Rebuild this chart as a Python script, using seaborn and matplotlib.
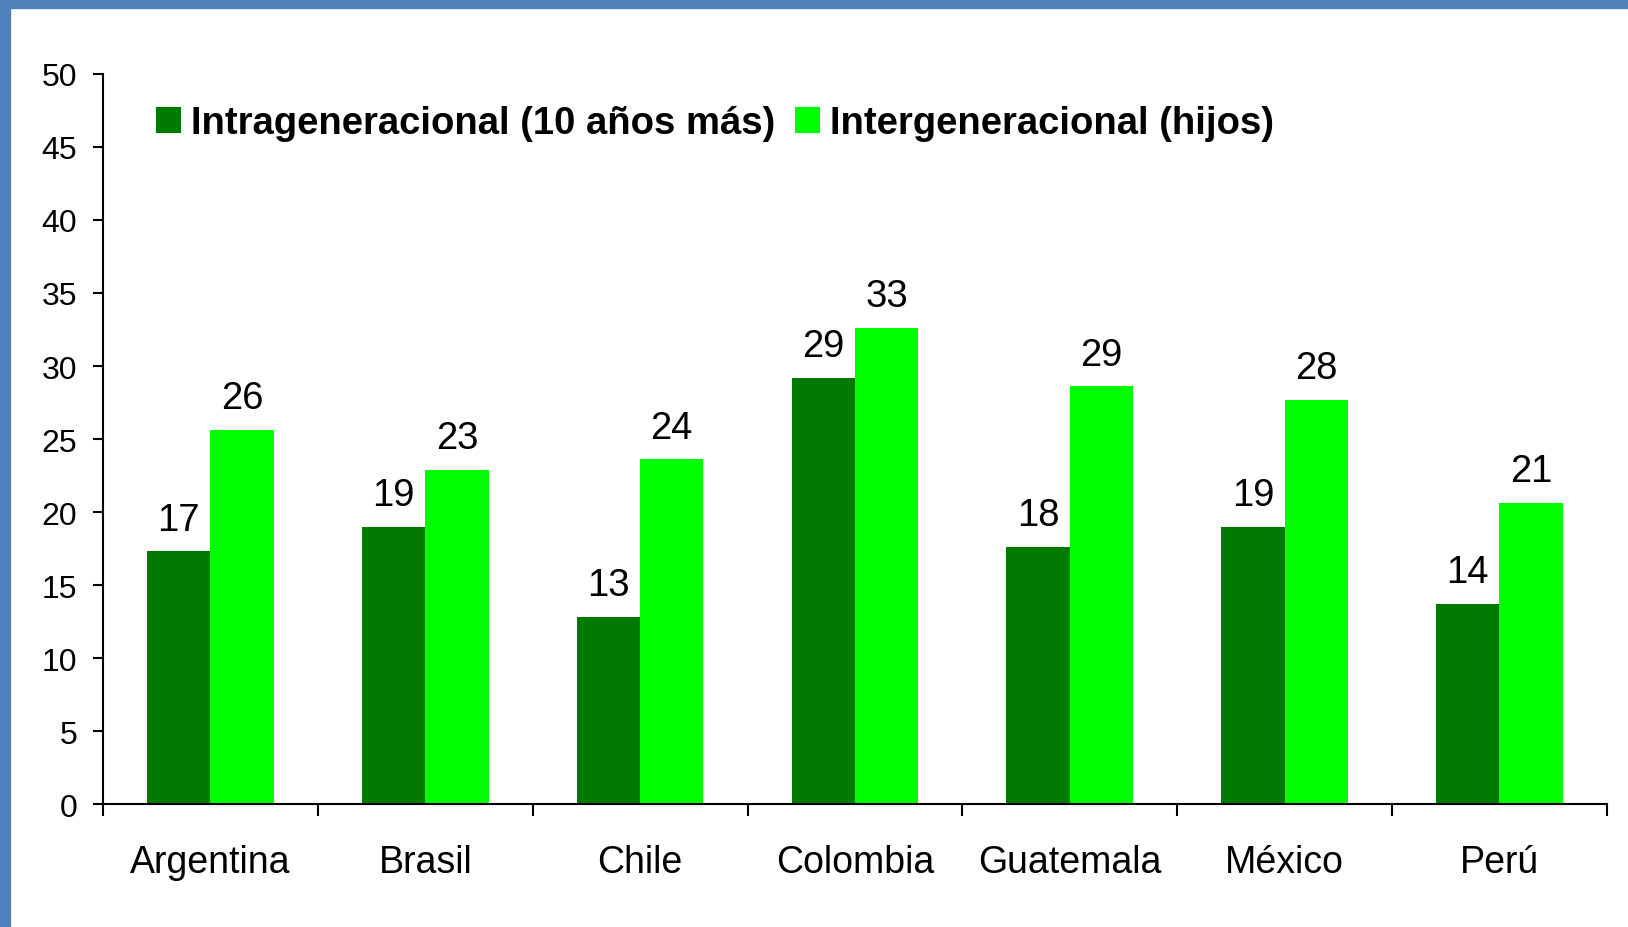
import numpy as np
import pandas as pd
import matplotlib
matplotlib.use("Agg")
import matplotlib.pyplot as plt
import matplotlib.patches as mpatches
import seaborn as sns

# data
paises = ["Argentina", "Brasil", "Chile", "Colombia", "Guatemala", "México", "Perú"]
intrageneracional = [17.3, 19.0, 12.8, 29.2, 17.6, 19.0, 13.7]
intergeneracional = [25.6, 22.9, 23.6, 32.6, 28.6, 27.7, 20.6]
series = ["Intrageneracional (10 años más)", "Intergeneracional (hijos)"]
yticks = [0, 5, 10, 15, 20, 25, 30, 35, 40, 45, 50]

COLORS = ["#007A00", "#00FF00"]
BORDER = "#4F81BD"

sns.set_style("white")
plt.rcParams["font.family"] = ["Liberation Sans", "DejaVu Sans"]
plt.rcParams.update({
    "text.color": "black",
    "xtick.color": "black",
    "ytick.color": "black",
    "axes.labelcolor": "black",
})

df = pd.DataFrame({
    "pais": paises * 2,
    "serie": [series[0]] * len(paises) + [series[1]] * len(paises),
    "valor": intrageneracional + intergeneracional,
})

fig = plt.figure(figsize=(16.28, 9.28), dpi=100)
ax = fig.add_axes([0.0633, 0.1325, 0.9237, 0.7867])

sns.barplot(data=df, x="pais", y="valor", hue="serie", order=paises,
            hue_order=series, palette=COLORS, width=0.59, saturation=1,
            errorbar=None, linewidth=0, ax=ax)

for cont in ax.containers:
    ax.bar_label(cont, fmt="%.0f", padding=10, fontsize=27.5)

# axes styling
ax.set_ylim(0, 50)
ax.set_xlim(-0.5, 6.5)
ax.set_yticks(yticks)
ax.set_xlabel("")
ax.set_ylabel("")
for s in ["top", "right"]:
    ax.spines[s].set_visible(False)
for s in ["left", "bottom"]:
    ax.spines[s].set_linewidth(1.5)
    ax.spines[s].set_color("black")

ax.tick_params(axis="y", direction="out", length=7.5, width=1.5, pad=11,
               labelsize=23, left=True)
ax.tick_params(axis="x", which="major", length=0, pad=29, labelsize=27)
ax.set_xticks(np.arange(-0.5, 7, 1), minor=True)
ax.tick_params(axis="x", which="minor", direction="out", length=8.5, width=1.5,
               bottom=True)

# legend on one row at the top
old = ax.get_legend()
handles = old.legend_handles
labels = [t.get_text() for t in old.get_texts()]
old.remove()
leg = ax.legend(handles, labels, ncol=2, loc="center left",
                bbox_to_anchor=(0.0958, 0.866), bbox_transform=fig.transFigure,
                frameon=False, borderpad=0, borderaxespad=0,
                handlelength=0.66, handleheight=0.66,
                handletextpad=0.27, columnspacing=0.5,
                prop={"size": 27.5, "weight": "bold"})

# blue frame on top and left edges
fig.patches.append(mpatches.Rectangle((0, 1 - 9 / 928), 1, 9 / 928,
                                      transform=fig.transFigure, color=BORDER,
                                      zorder=10))
fig.patches.append(mpatches.Rectangle((0, 0), 10 / 1628, 1,
                                      transform=fig.transFigure, color=BORDER,
                                      zorder=10))

fig.savefig("out.png", dpi=100)
plt.close(fig)
